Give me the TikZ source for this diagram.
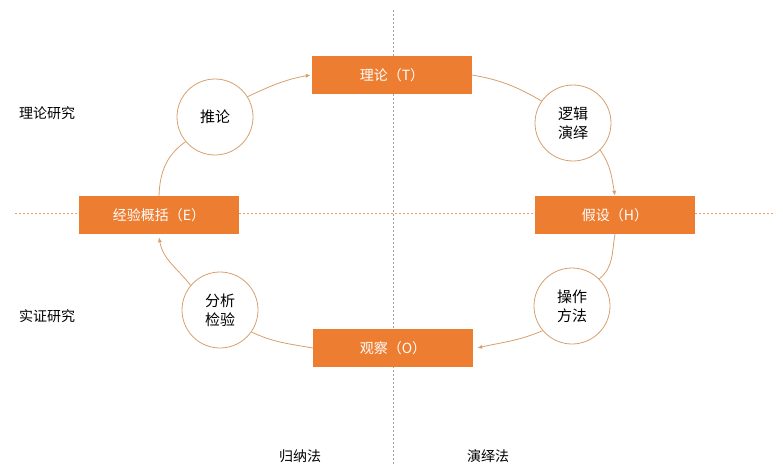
\documentclass[tikz,border=0pt]{standalone}
\usepackage{fontspec}
\newfontfamily\cjk{Noto Sans CJK SC}
\usetikzlibrary{arrows.meta}
\definecolor{boxorange}{HTML}{ED7D31}
\definecolor{ringtan}{HTML}{D6A06E}
\definecolor{guidegray}{HTML}{A8A09A}
\definecolor{guideorange}{HTML}{EE9A60}
\tikzset{
  stage/.style = {fill=boxorange, text=white, minimum width=160pt,
    minimum height=38pt, font=\cjk\fontsize{14}{16}\selectfont},
  method/.style = {circle, draw=ringtan, line width=0.8pt, fill=white,
    minimum size=76pt, align=center, font=\cjk\fontsize{15}{19}\selectfont},
  side/.style = {font=\cjk\fontsize{14}{16}\selectfont},
  flow/.style = {draw=ringtan, line width=0.8pt},
  flowarrow/.style = {flow, -{Latex[length=5pt,width=4pt]}}
}

\begin{document}
\begin{tikzpicture}[x=1pt,y=1pt]
  \useasboundingbox (0,0) rectangle (783,475);
  % guide lines
  \draw[guidegray, dash pattern=on 2pt off 2pt] (393,465) -- (393,10);
  \draw[guideorange, line width=0.6pt, dash pattern=on 2pt off 2pt] (15,262) -- (775,262);

  \node[stage] (theory) at (392,400) {理论（T）};
  \node[stage] (general) at (159,260) {经验概括（E）};
  \node[stage] (hypo) at (615,260) {假设（H）};
  \node[stage] (observe) at (393,127) {观察（O）};

  \node[method] (infer) at (215,358) {推论};
  \node[method] (deduce) at (573,352) {逻辑\\演绎};
  \node[method] (test) at (220,165) {分析\\检验};
  \node[method] (operate) at (572,169) {操作\\方法};

  \node[side] (upper) at (47,362) {理论研究};
  \node[side] (lower) at (47,159) {实证研究};
  \node[side] (induct) at (300,19) {归纳法};
  \node[side] (deduct) at (488,19) {演绎法};

  % the cycle, running round an ellipse
  \path[flow] (general.north) to[out=88, in=-145] (infer.220);
  \path[flowarrow] (infer.32) to[out=25, in=190] ([xshift=-1pt]theory.west);
  \path[flow] (theory.east) to[out=-10, in=150] (deduce.145);
  \path[flowarrow] (deduce.-45) to[out=-55, in=100] (hypo.north);
  \path[flow] (hypo.south) to[out=-100, in=38] (operate.45);
  \path[flowarrow] (operate.220) to[out=203, in=13] ([xshift=4pt]observe.east);
  \path[flow] (observe.west) to[out=170, in=-25] (test.-35);
  \path[flowarrow] (test.140) to[out=128, in=-80] ([yshift=-3pt]general.south);
\end{tikzpicture}
\end{document}
